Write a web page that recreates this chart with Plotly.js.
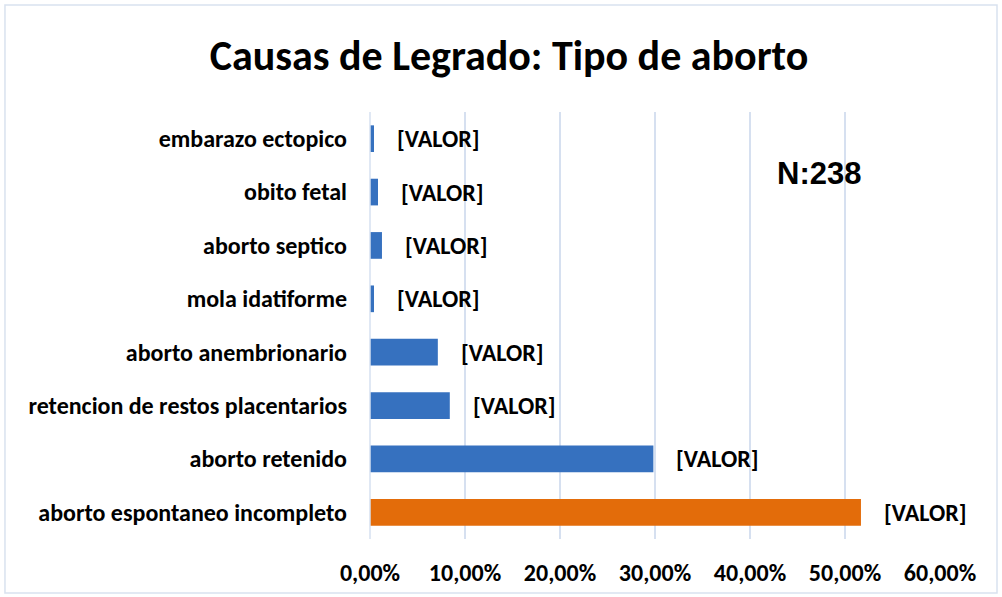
<!DOCTYPE html>
<html>
<head>
<meta charset="utf-8">
<script src="https://cdn.plot.ly/plotly-3.0.1.min.js"></script>
<style>html,body{margin:0;padding:0;background:#fff;}#chart{width:1002px;height:597px;}</style>
</head>
<body>
<div id="chart"></div>
<script>
const categories = [
  "aborto espontaneo incompleto",
  "aborto retenido",
  "retencion de restos placentarios",
  "aborto anembrionario",
  "mola idatiforme",
  "aborto septico",
  "obito fetal",
  "embarazo ectopico"
];
const values = [0.5168, 0.2983, 0.0840, 0.0714, 0.0042, 0.0126, 0.0084, 0.0042];
const labels = ["[VALOR]","[VALOR]","[VALOR]","[VALOR]","[VALOR]","[VALOR]","[VALOR]","[VALOR]"];
const tickVals = [0, 0.1, 0.2, 0.3, 0.4, 0.5, 0.6];
const title = "Causas de Legrado: Tipo de aborto";
const note = "N:238";

const colors = categories.map((c, i) => i === 0 ? "#e36c0a" : "#3671bf");
const fontFam = "Carlito, 'Liberation Sans Narrow', 'Open Sans', sans-serif";

const trace = {
  type: "bar",
  orientation: "h",
  y: categories,
  x: values,
  marker: {color: colors},
  hoverinfo: "x+y"
};

const annotations = categories.map((c, i) => ({
  x: values[i], y: c, xref: "x", yref: "y",
  text: labels[i], showarrow: false, xanchor: "left", xshift: 21,
  font: {family: fontFam, size: 24, color: "#000", weight: "bold"}
}));
annotations.push({
  xref: "paper", yref: "paper", x: 0.788, y: 0.855, xanchor: "center", yanchor: "middle",
  text: "<b>" + note + "</b>", showarrow: false,
  font: {family: "'Liberation Sans', Arial, sans-serif", size: 31, color: "#000"}
});

const layout = {
  width: 1002, height: 597,
  margin: {l: 370, r: 62, t: 112, b: 58},
  paper_bgcolor: "#fff", plot_bgcolor: "#fff",
  title: {text: "<b>" + title + "</b>", x: 0.508, xanchor: "center", y: 0.908, yanchor: "middle",
    font: {family: fontFam, size: 42, color: "#000"}},
  bargap: 0.5,
  showlegend: false,
  xaxis: {
    range: [0, 0.6], tickvals: tickVals, tickformat: ".2%",
    showgrid: true, gridcolor: "#d6e0f0", gridwidth: 1.5, zeroline: false,
    showline: false, ticks: "", ticklabelstandoff: 17,
    tickfont: {family: fontFam, size: 24, color: "#000", weight: "bold"},
    fixedrange: true
  },
  yaxis: {
    showgrid: false, zeroline: false, showline: false, ticks: "", ticklabelstandoff: 22,
    tickfont: {family: fontFam, size: 24, color: "#000", weight: "bold"},
    categoryorder: "array", categoryarray: categories
  },
  separators: ",.",
  annotations: annotations,
  shapes: [
    {type: "line", xref: "paper", yref: "paper", x0: 0, x1: 0, y0: 0, y1: 1,
     line: {color: "#d6e0f0", width: 1.5}},
    {type: "rect", xref: "paper", yref: "paper", x0: -0.6404, x1: 1.1, y0: -0.1265, y1: 1.2506,
     line: {color: "#d9e2ef", width: 1.5}, fillcolor: "rgba(0,0,0,0)", layer: "below"}
  ]
};

Plotly.newPlot("chart", [trace], layout, {displayModeBar: false, staticPlot: true});
</script>
</body>
</html>
